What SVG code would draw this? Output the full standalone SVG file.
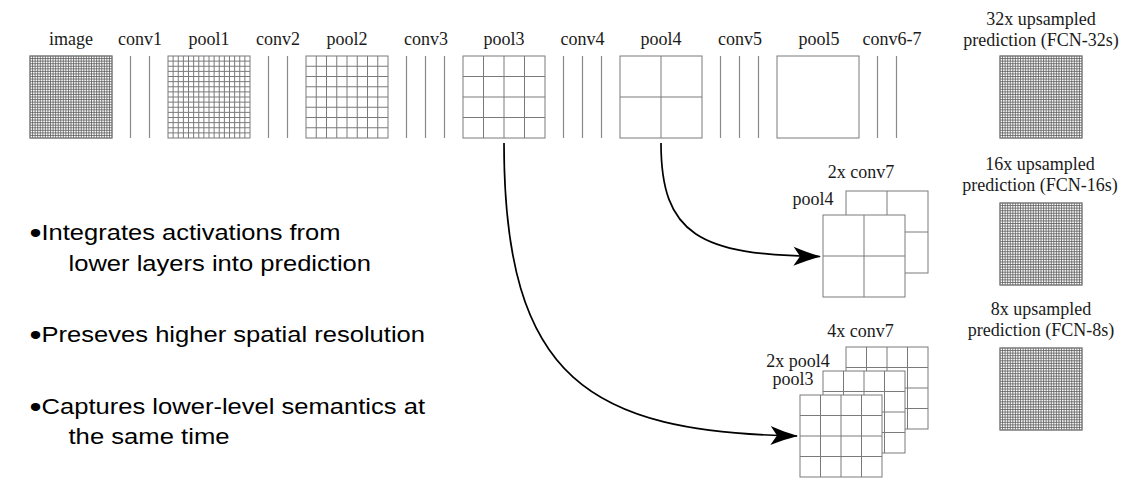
<svg xmlns="http://www.w3.org/2000/svg" width="1132" height="484" viewBox="0 0 1132 484">
<style>
.lbl{font-family:"Liberation Serif","Times New Roman",serif;font-size:18px;fill:#1a1a1a;text-anchor:middle}
.bul{font-family:"Liberation Sans",Arial,sans-serif;font-size:21.5px;fill:#000}
.dot{font-size:29px}
.box{fill:#fff;stroke:#7a7a7a;stroke-width:1}
.gl{fill:none;stroke:#7a7a7a;stroke-width:1}
.gd{fill:none;stroke:#5a5a5a;stroke-width:0.8}
.cv{fill:none;stroke:#8a8a8a;stroke-width:1.2}
.arr{fill:none;stroke:#000;stroke-width:1.7;marker-end:url(#ah)}
</style>
<defs>
<marker id="ah" markerUnits="userSpaceOnUse" viewBox="0 0 28 20" refX="27" refY="10" markerWidth="28" markerHeight="20" orient="auto">
<path d="M28,10 C19,7.5 9,4 0.5,0.5 L7,10 L0.5,19.5 C9,16 19,12.5 28,10 Z" fill="#000"/>
</marker>
<g id="g32">
<rect class="box" x="0" y="0" width="82" height="82"/>
<path class="gd" d="M2.5625,0v82m2.5625,-82v82m2.5625,-82v82m2.5625,-82v82m2.5625,-82v82m2.5625,-82v82m2.5625,-82v82m2.5625,-82v82m2.5625,-82v82m2.5625,-82v82m2.5625,-82v82m2.5625,-82v82m2.5625,-82v82m2.5625,-82v82m2.5625,-82v82m2.5625,-82v82m2.5625,-82v82m2.5625,-82v82m2.5625,-82v82m2.5625,-82v82m2.5625,-82v82m2.5625,-82v82m2.5625,-82v82m2.5625,-82v82m2.5625,-82v82m2.5625,-82v82m2.5625,-82v82m2.5625,-82v82m2.5625,-82v82m2.5625,-82v82m2.5625,-82v82M0,2.5625h82m-82,2.5625h82m-82,2.5625h82m-82,2.5625h82m-82,2.5625h82m-82,2.5625h82m-82,2.5625h82m-82,2.5625h82m-82,2.5625h82m-82,2.5625h82m-82,2.5625h82m-82,2.5625h82m-82,2.5625h82m-82,2.5625h82m-82,2.5625h82m-82,2.5625h82m-82,2.5625h82m-82,2.5625h82m-82,2.5625h82m-82,2.5625h82m-82,2.5625h82m-82,2.5625h82m-82,2.5625h82m-82,2.5625h82m-82,2.5625h82m-82,2.5625h82m-82,2.5625h82m-82,2.5625h82m-82,2.5625h82m-82,2.5625h82m-82,2.5625h82"/>
<rect class="gl" x="0" y="0" width="82" height="82"/>
</g>
<g id="g16">
<rect class="box" x="0" y="0" width="82" height="82"/>
<path class="gl" d="M5.125,0v82m5.125,-82v82m5.125,-82v82m5.125,-82v82m5.125,-82v82m5.125,-82v82m5.125,-82v82m5.125,-82v82m5.125,-82v82m5.125,-82v82m5.125,-82v82m5.125,-82v82m5.125,-82v82m5.125,-82v82m5.125,-82v82M0,5.125h82m-82,5.125h82m-82,5.125h82m-82,5.125h82m-82,5.125h82m-82,5.125h82m-82,5.125h82m-82,5.125h82m-82,5.125h82m-82,5.125h82m-82,5.125h82m-82,5.125h82m-82,5.125h82m-82,5.125h82m-82,5.125h82"/>
</g>
<g id="g8">
<rect class="box" x="0" y="0" width="82" height="82"/>
<path class="gl" d="M10.25,0v82m10.25,-82v82m10.25,-82v82m10.25,-82v82m10.25,-82v82m10.25,-82v82m10.25,-82v82M0,10.25h82m-82,10.25h82m-82,10.25h82m-82,10.25h82m-82,10.25h82m-82,10.25h82m-82,10.25h82"/>
</g>
<g id="g4">
<rect class="box" x="0" y="0" width="82" height="82"/>
<path class="gl" d="M20.5,0v82m20.5,-82v82m20.5,-82v82M0,20.5h82m-82,20.5h82m-82,20.5h82"/>
</g>
<g id="g2">
<rect class="box" x="0" y="0" width="82" height="82"/>
<path class="gl" d="M41,0v82M0,41h82"/>
</g>
<g id="g1">
<rect class="box" x="0" y="0" width="82" height="82"/>
</g>
</defs>

<rect width="1132" height="484" fill="#fff"/>

<g id="image"><use href="#g32" x="30" y="56"/><text class="lbl" x="71" y="45">image</text></g>
<g id="conv1"><path class="cv" d="M130.5,56V138M149.5,56V138"/><text class="lbl" x="140" y="45">conv1</text></g>
<g id="pool1"><use href="#g16" x="168" y="56"/><text class="lbl" x="209" y="45">pool1</text></g>
<g id="conv2"><path class="cv" d="M268.5,56V138M287.5,56V138"/><text class="lbl" x="278" y="45">conv2</text></g>
<g id="pool2"><use href="#g8" x="306" y="56"/><text class="lbl" x="347" y="45">pool2</text></g>
<g id="conv3"><path class="cv" d="M406.5,56V138M425.5,56V138M444.5,56V138"/><text class="lbl" x="426" y="45">conv3</text></g>
<g id="pool3"><use href="#g4" x="463" y="56"/><text class="lbl" x="504" y="45">pool3</text></g>
<g id="conv4"><path class="cv" d="M563.5,56V138M582.5,56V138M601.5,56V138"/><text class="lbl" x="582.5" y="45">conv4</text></g>
<g id="pool4"><use href="#g2" x="620" y="56"/><text class="lbl" x="661" y="45">pool4</text></g>
<g id="conv5"><path class="cv" d="M720.5,56V138M739.5,56V138M758.5,56V138"/><text class="lbl" x="740" y="45">conv5</text></g>
<g id="pool5"><use href="#g1" x="777" y="56"/><text class="lbl" x="819" y="45">pool5</text></g>
<g id="conv6-7"><path class="cv" d="M877.5,56V138M896.5,56V138"/><text class="lbl" x="892" y="45">conv6-7</text></g>
<g id="fcn32"><use href="#g32" x="1000" y="56"/><text class="lbl" x="1041" y="24.5">32x upsampled</text><text class="lbl" x="1041" y="45.5">prediction (FCN-32s)</text></g>

<g id="fuse16">
<use href="#g2" x="846" y="191"/>
<use href="#g2" x="823" y="215"/>
<text class="lbl" x="861" y="178">2x conv7</text>
<text class="lbl" x="813" y="205">pool4</text>
</g>
<g id="fcn16"><use href="#g32" x="1000" y="203"/><text class="lbl" x="1040" y="169.5">16x upsampled</text><text class="lbl" x="1040" y="190.5">prediction (FCN-16s)</text></g>

<g id="fuse8">
<use href="#g4" x="846" y="347"/>
<use href="#g4" x="823" y="371"/>
<use href="#g4" x="800" y="395"/>
<text class="lbl" x="860.5" y="337">4x conv7</text>
<text class="lbl" x="798" y="366.5">2x pool4</text>
<text class="lbl" x="793" y="385">pool3</text>
</g>
<g id="fcn8"><use href="#g32" x="1000" y="348"/><text class="lbl" x="1041" y="315">8x upsampled</text><text class="lbl" x="1041" y="335.5">prediction (FCN-8s)</text></g>

<g id="connectors">
<path class="arr" d="M661,143 C661,235 700,255 820,256.5"/>
<path class="arr" d="M504,143 C504,380 590,432 797,436"/>
</g>

<g id="notes">
<text class="bul" x="29.5" y="239.5" textLength="311" lengthAdjust="spacingAndGlyphs"><tspan class="dot" baseline-shift="-3">•</tspan>Integrates activations from</text>
<text class="bul" x="68.5" y="271" textLength="302.5" lengthAdjust="spacingAndGlyphs">lower layers into prediction</text>
<text class="bul" x="29.5" y="341.5" textLength="395.5" lengthAdjust="spacingAndGlyphs"><tspan class="dot" baseline-shift="-3">•</tspan>Preseves higher spatial resolution</text>
<text class="bul" x="29.5" y="413.5" textLength="395.5" lengthAdjust="spacingAndGlyphs"><tspan class="dot" baseline-shift="-3">•</tspan>Captures lower-level semantics at</text>
<text class="bul" x="68.5" y="443.5" textLength="161" lengthAdjust="spacingAndGlyphs">the same time</text>
</g>
</svg>
